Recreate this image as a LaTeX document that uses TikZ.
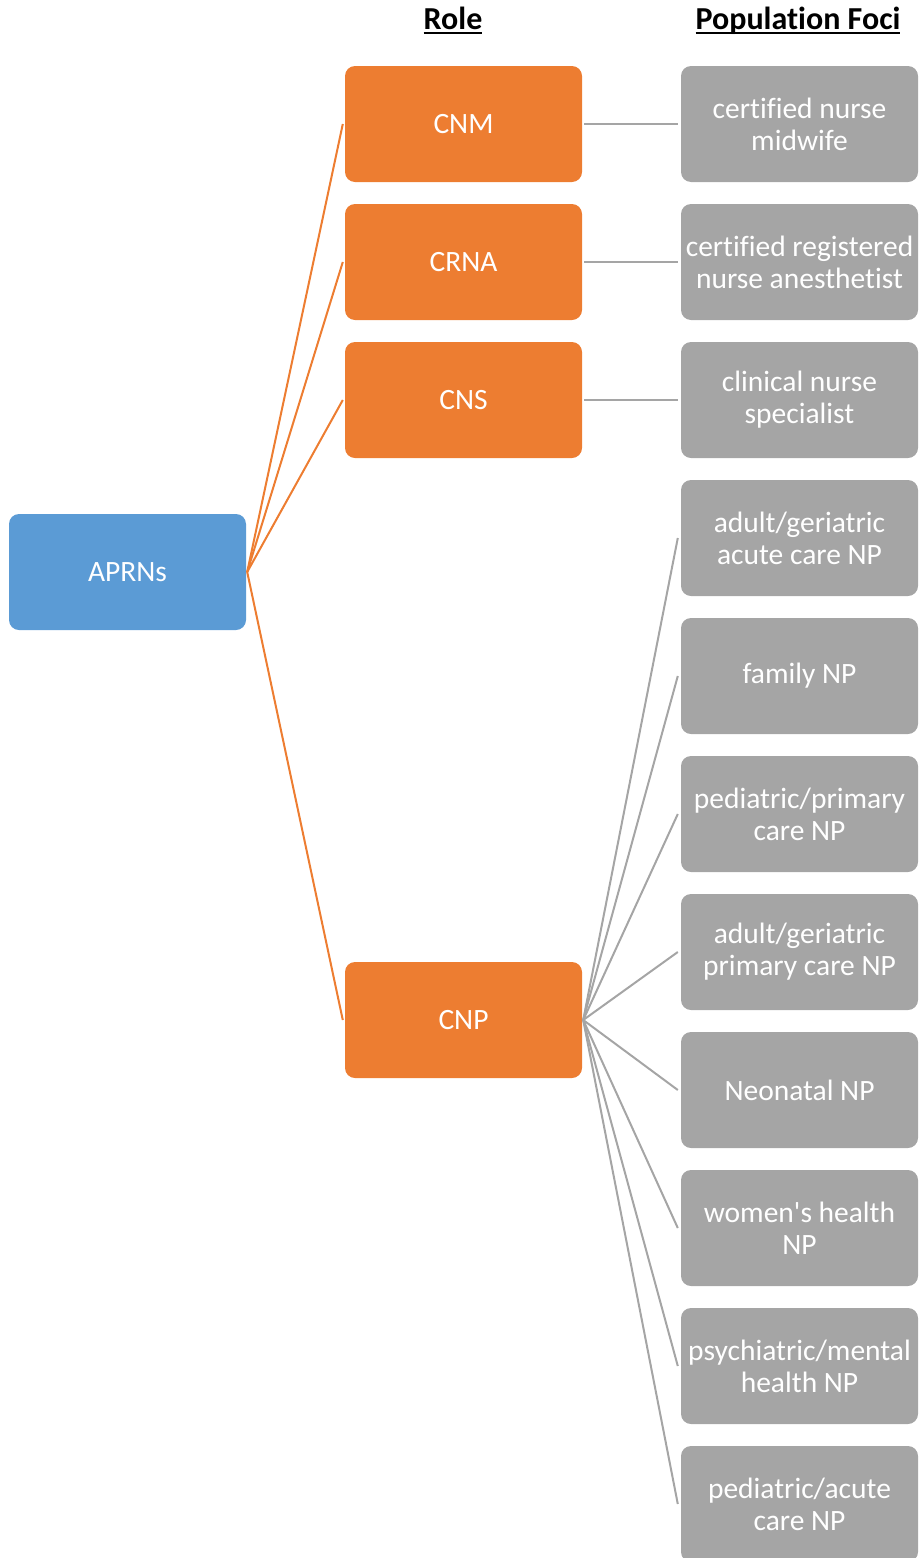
\documentclass[tikz,border=0pt]{standalone}
\usepackage{fontspec}
\setmainfont{Carlito}[Ligatures={TeX,CommonOff}]
\definecolor{aorange}{HTML}{ED7D31}
\definecolor{ablue}{HTML}{5B9BD5}
\definecolor{agray}{HTML}{A5A5A5}
\newcommand{\hdrul}[1]{\setbox0\hbox{#1}\rlap{\rule[-5pt]{\wd0}{2.4pt}}\box0}
\begin{document}
\begin{tikzpicture}[x=1pt,y=-1pt,
  box/.style={rounded corners=10pt, minimum width=237pt, minimum height=116pt,
    inner sep=0pt, align=center, text=white, font=\fontsize{29.5}{32}\selectfont},
  rolebox/.style={box, fill=aorange},
  rootbox/.style={box, fill=ablue},
  focusbox/.style={box, fill=agray},
  hdr/.style={anchor=base, inner sep=0pt, font=\fontsize{32}{36}\selectfont\bfseries},
  olink/.style={draw=aorange, line width=2pt},
  glink/.style={draw=agray, line width=2pt}]
\useasboundingbox (0,0) rectangle (920,1558);
\node[hdr] (hrole) at (453,29) {\hdrul{Role}};
\node[hdr] (hfoci) at (798,29) {\hdrul{Population Foci}};
\node[rootbox] (aprn) at (127.5,572) {APRNs};
\node[rolebox] (cnm) at (463.5,124) {CNM};
\node[rolebox] (crna) at (463.5,262) {CRNA};
\node[rolebox] (cns) at (463.5,400) {CNS};
\node[rolebox] (cnp) at (463.5,1020) {CNP};
\node[focusbox] (g1) at (799.5,124) {certified nurse\\midwife};
\node[focusbox] (g2) at (799.5,262) {certified registered\\nurse anesthetist};
\node[focusbox] (g3) at (799.5,400) {clinical nurse\\specialist};
\node[focusbox] (g4) at (799.5,538) {adult/geriatric\\acute care NP};
\node[focusbox] (g5) at (799.5,676) {family NP};
\node[focusbox] (g6) at (799.5,814) {pediatric/primary\\care NP};
\node[focusbox] (g7) at (799.5,952) {adult/geriatric\\primary care NP};
\node[focusbox] (g8) at (799.5,1090) {Neonatal NP};
\node[focusbox] (g9) at (799.5,1228) {women\textquotesingle s health\\NP};
\node[focusbox] (g10) at (799.5,1366) {psychiatric/mental\\health NP};
\node[focusbox] (g11) at (799.5,1504) {pediatric/acute\\care NP};
\foreach \r in {cnm,crna,cns,cnp}
  \draw[olink] ([xshift=1pt]aprn.east) -- ([xshift=-2pt]\r.west);
\draw[glink] ([xshift=2pt]cnm.east) -- ([xshift=-3pt]g1.west);
\draw[glink] ([xshift=2pt]crna.east) -- ([xshift=-3pt]g2.west);
\draw[glink] ([xshift=2pt]cns.east) -- ([xshift=-3pt]g3.west);
\foreach \g in {g4,g5,g6,g7,g8,g9,g10,g11}
  \draw[glink] ([xshift=1pt]cnp.east) -- ([xshift=-3pt]\g.west);
\end{tikzpicture}
\end{document}
